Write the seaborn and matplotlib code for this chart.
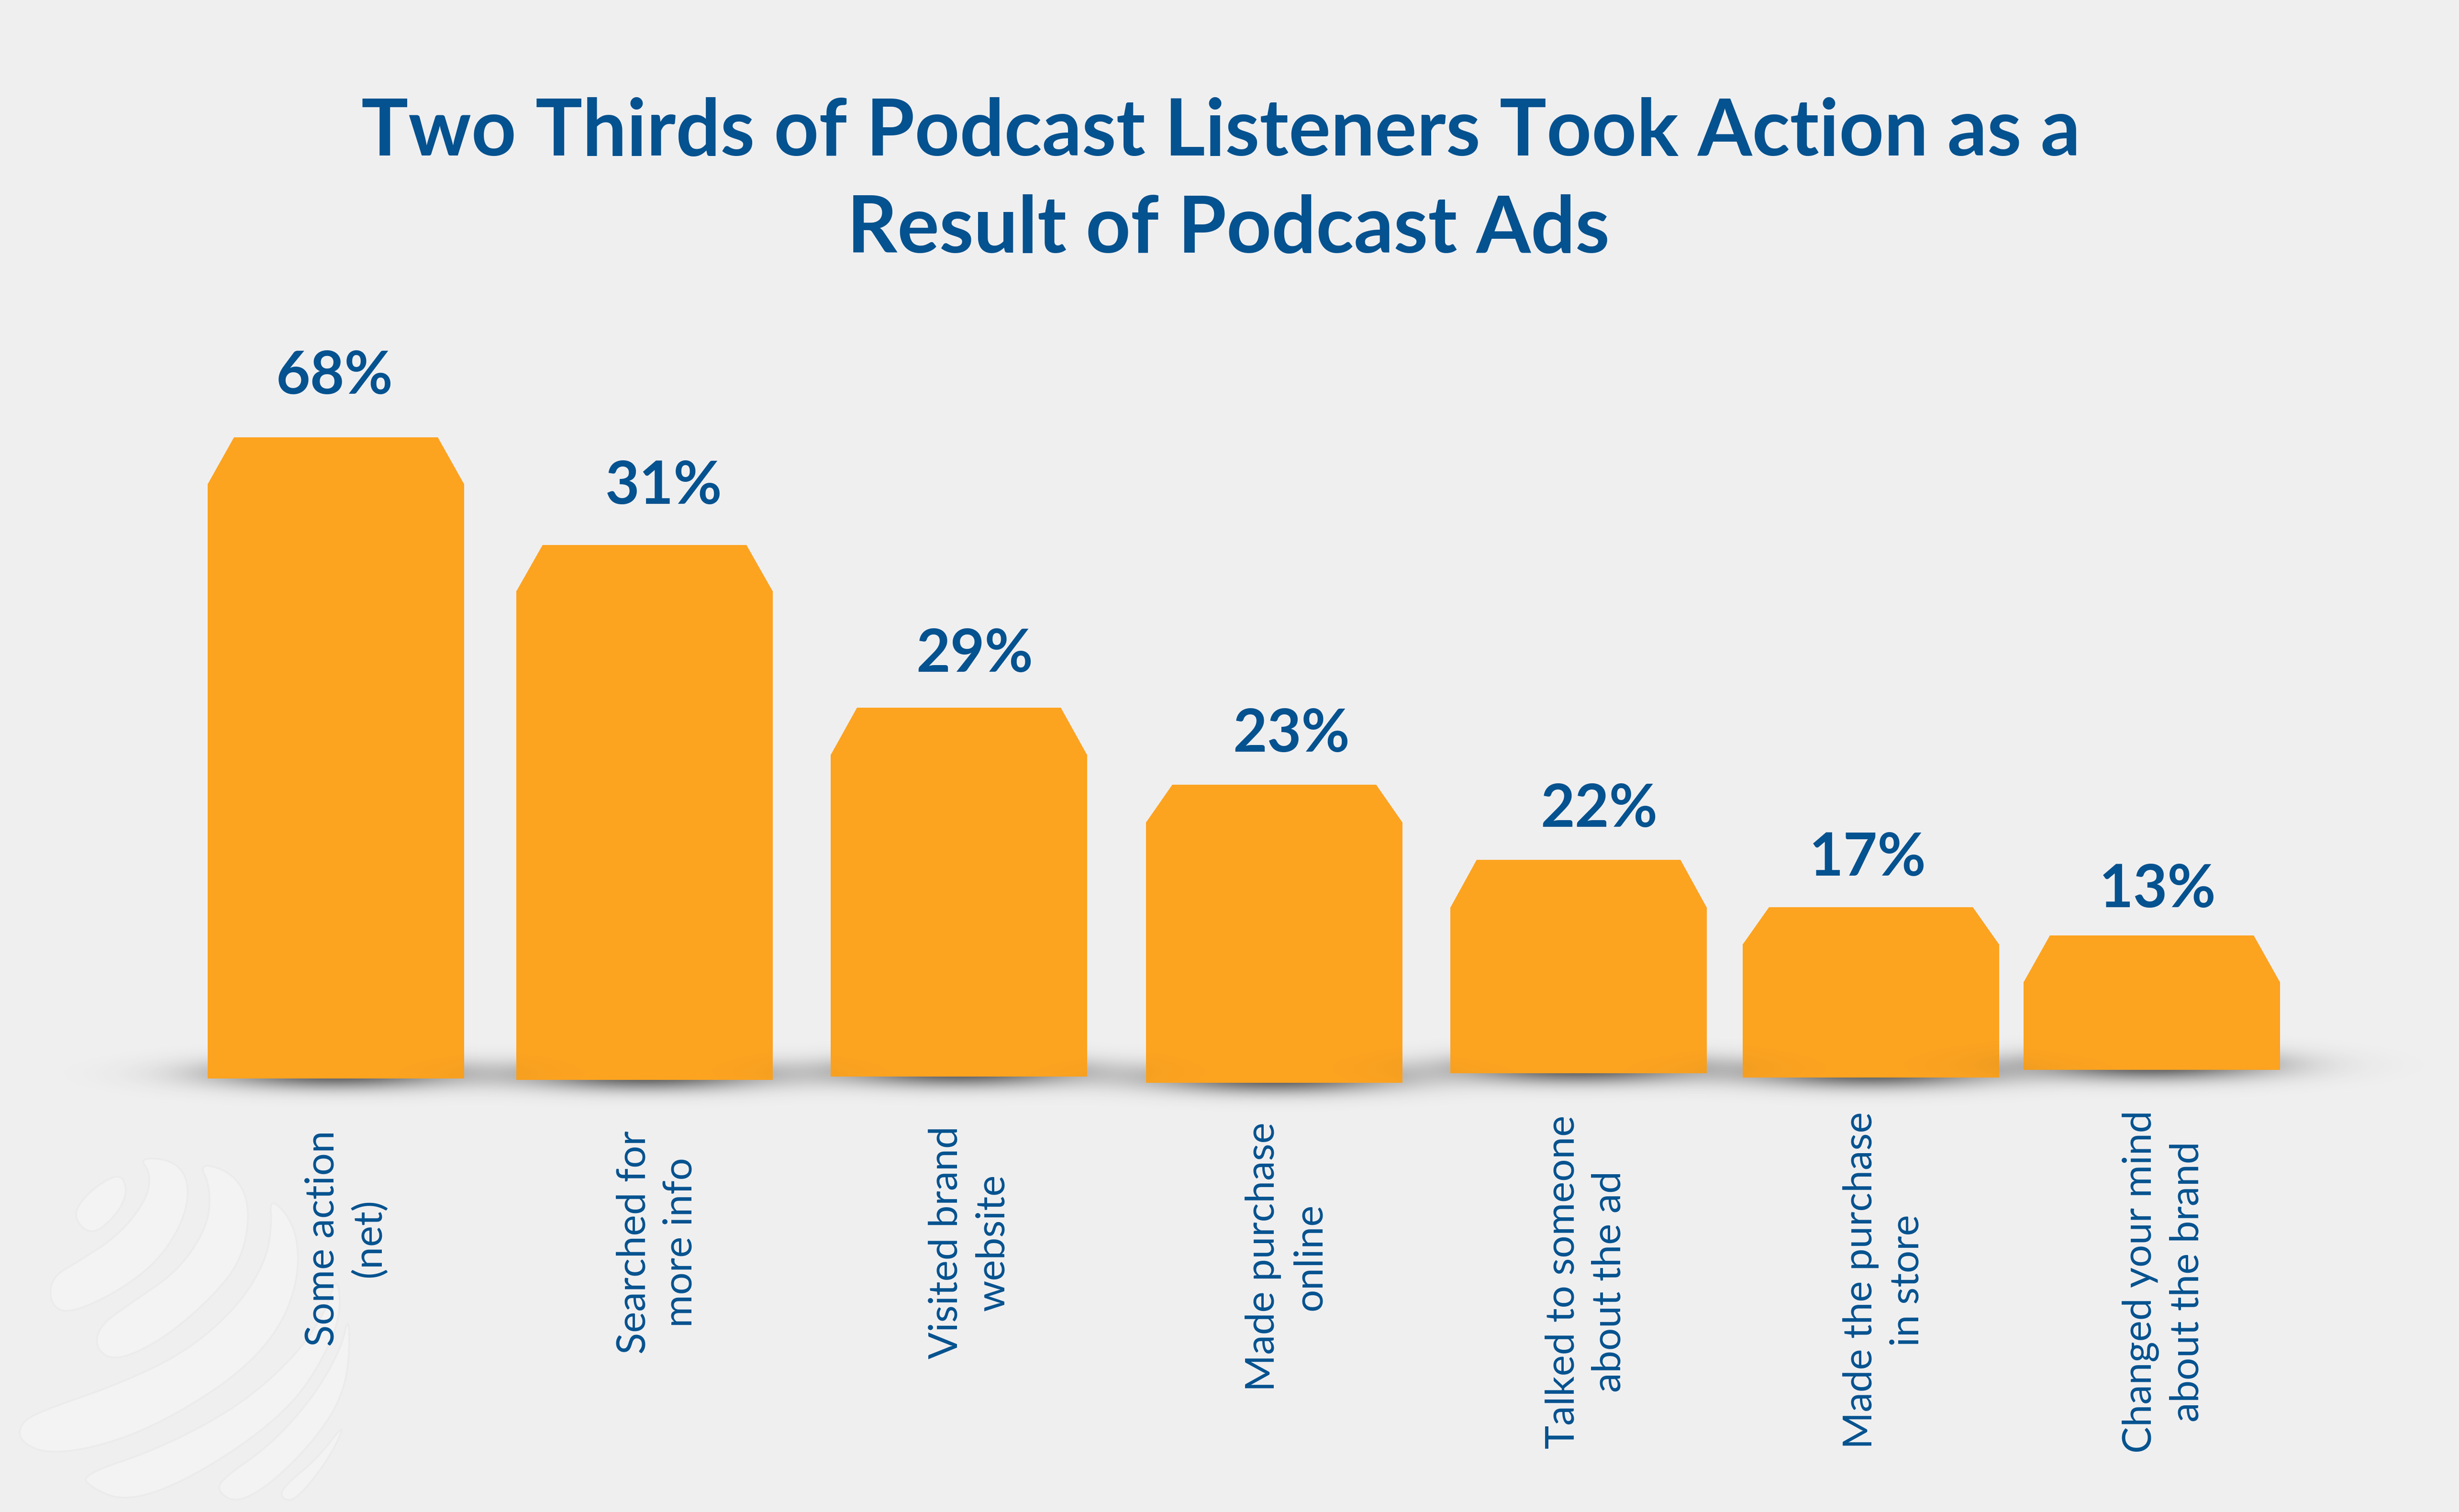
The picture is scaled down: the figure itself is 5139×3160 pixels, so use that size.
import numpy as np
import matplotlib
matplotlib.use("Agg")
import matplotlib.pyplot as plt
from matplotlib.patches import Polygon
import seaborn as sns

# values printed on the chart
categories = ["Some action\n(net)", "Searched for\nmore info", "Visited brand\nwebsite",
              "Made purchase\nonline", "Talked to someone\nabout the ad",
              "Made the purchase\nin store", "Changed your mind\nabout the brand"]
percents = [68, 31, 29, 23, 22, 17, 13]
title_lines = ["Two Thirds of Podcast Listeners Took Action as a", "Result of Podcast Ads"]

# bar geometry (the bars are not to scale), canvas pixels from the bottom
bar_centers = [702, 1347, 2004, 2663, 3299, 3910, 4497]
bar_base = [906, 903, 910, 897, 917, 908, 924]
bar_shoulder = [2149, 1925, 1583, 1442, 1264, 1187, 1108]
bar_peak = [2246, 2021, 1681, 1520, 1363, 1264, 1205]
bar_width = 536
bar_inset = 55

# where the texts sit
pct_x = [699, 1387, 2037, 2699, 3342, 3903, 4509]
pct_y = [2337, 2107, 1756, 1589, 1432, 1330, 1264]
cat_x = [724, 1374, 2026, 2689, 3315, 3938, 4522]
cat_y = [572, 563, 563, 533, 481, 484, 481]
title_x = [2551, 2567]
title_y = [2835, 2632]

BG = "#F0EFF0"
ORANGE = "#FCA320"
BLUE = "#04528F"
W, H = 5139, 3160

sns.set_theme(style="white")
plt.rcParams["font.family"] = ["Lato", "DejaVu Sans"]

fig = plt.figure(figsize=(W / 100, H / 100), dpi=100, facecolor=BG)
ax = fig.add_axes([0, 0, 1, 1], facecolor=BG)

# flat bars with the chamfered top drawn on them
heights = np.array(bar_shoulder) - np.array(bar_base)
sns.barplot(x=bar_centers, y=heights, bottom=bar_base, native_scale=True,
            width=bar_width / np.diff(bar_centers).min(), color=ORANGE, saturation=1,
            linewidth=0, ax=ax, zorder=3)
for cx, sh, pk in zip(bar_centers, bar_shoulder, bar_peak):
    half = bar_width / 2
    ax.fill([cx - half, cx - half + bar_inset, cx + half - bar_inset, cx + half],
            [sh - 1, pk, pk, sh - 1], color=ORANGE, lw=0, zorder=3)

# soft floor shadows, stronger on the background than on neighbouring bars
xx, yy = np.meshgrid(np.arange(W) + 0.5, np.arange(780, 1040) + 0.5)
keep = np.ones_like(xx)
on_bar = np.zeros_like(xx, dtype=bool)
for cx, cb, cs in zip(bar_centers, bar_base, bar_shoulder):
    on_bar |= (np.abs(xx - cx) < bar_width / 2) & (yy > cb) & (yy < cs)
for cx, cb, cs in zip(bar_centers, bar_base, bar_shoulder):
    a = 0.75 * np.exp(-((xx - cx) ** 2) / (2 * 175 ** 2) - ((yy - cb - 10) ** 2) / (2 * 22 ** 2))
    own = (np.abs(xx - cx) < bar_width / 2) & (yy > cb) & (yy < cs)
    a[own] = 0
    a[on_bar & ~own] *= 0.4
    keep *= 1 - a
shadow = np.zeros(xx.shape + (4,))
shadow[..., :3] = 40 / 255
shadow[..., 3] = 1 - keep
ax.imshow(shadow, extent=(0, W, 780, 1040), origin="lower", aspect="auto", zorder=4)

# faint globe watermark, outlines (crop coordinates)
swooshes = [
    [(215, 585), (300, 515), (322, 570), (300, 640), (232, 715), (182, 655)],
    [(350, 470), (440, 480), (478, 550), (465, 660), (400, 790), (290, 890), (170, 955),
     (125, 920), (130, 840), (200, 790), (300, 710), (370, 600), (380, 520)],
    [(500, 485), (590, 520), (632, 620), (610, 790), (520, 920), (400, 1040), (290, 1100),
     (240, 1060), (250, 990), (330, 920), (450, 820), (525, 680), (530, 560)],
    [(680, 590), (745, 680), (755, 830), (710, 990), (610, 1130), (450, 1260), (290, 1350),
     (130, 1388), (50, 1350), (50, 1290), (110, 1250), (300, 1170), (470, 1070), (600, 930),
     (670, 790), (685, 680)],
    [(850, 830), (860, 950), (820, 1080), (740, 1230), (600, 1370), (430, 1490), (310, 1530),
     (230, 1490), (205, 1450), (400, 1370), (600, 1240), (740, 1090), (820, 950)],
    [(880, 950), (880, 1120), (850, 1240), (780, 1360), (680, 1480), (600, 1535), (555, 1510),
     (550, 1470), (680, 1360), (790, 1210), (860, 1060)],
    [(875, 1280), (830, 1400), (745, 1530), (710, 1525), (710, 1490), (800, 1400)],
]


def smooth(pts, rounds=3):
    pts = np.array(pts, dtype=float)
    for _ in range(rounds):
        nxt = np.roll(pts, -1, axis=0)
        pts = np.column_stack([0.75 * pts + 0.25 * nxt, 0.25 * pts + 0.75 * nxt]).reshape(-1, 2)
    return pts


for shape in swooshes:
    pts = smooth(shape)
    pts = np.column_stack([pts[:, 0] / 1.206, H - (2100 + pts[:, 1] / 1.476)])
    ax.add_patch(Polygon(pts, closed=True, facecolor="#F3F3F4", edgecolor="#EBEBEC", lw=2.5, zorder=1))

# texts
for line, x, y in zip(title_lines, title_x, title_y):
    ax.text(x, y, line, color=BLUE, fontsize=118, fontweight="bold", ha="center", va="baseline", zorder=6)
for p, x, y in zip(percents, pct_x, pct_y):
    ax.text(x, y, f"{p}%", color=BLUE, fontsize=89, fontweight="bold", ha="center", va="baseline", zorder=6)
for c, x, y in zip(categories, cat_x, cat_y):
    ax.text(x, y, c, color=BLUE, fontsize=60, rotation=90, ha="center", va="center",
            multialignment="center", linespacing=1.35, zorder=6)

ax.set_xlim(0, W)
ax.set_ylim(0, H)
ax.axis("off")

fig.savefig("out.png", dpi=100, facecolor=BG)
